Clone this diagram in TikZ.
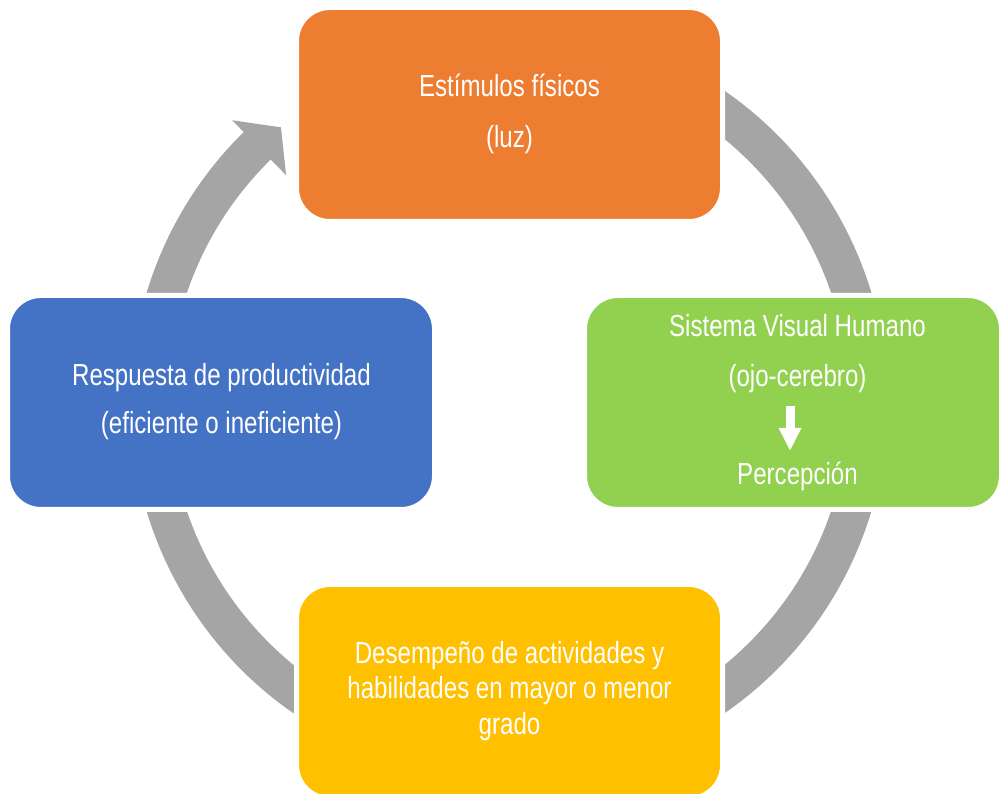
\documentclass[tikz,border=0pt]{standalone}
\usepackage{fontspec}
\setmainfont{Liberation Sans}[FakeStretch=0.79]
\usetikzlibrary{arrows.meta}
\definecolor{orangeC}{HTML}{ED7D31}
\definecolor{greenC}{HTML}{92D050}
\definecolor{blueC}{HTML}{4472C4}
\definecolor{yellowC}{HTML}{FFC000}
\definecolor{ringC}{HTML}{A5A5A5}
\tikzset{
  box/.style={rectangle, rounded corners=33.5pt, draw=white, line width=5pt,
              minimum height=214pt, inner sep=0pt},
  txt/.style={text=white, font=\fontsize{30.5}{36}\selectfont, anchor=base, inner sep=0pt},
}
\begin{document}
\begin{tikzpicture}[x=1pt,y=1pt]
\useasboundingbox (0,0) rectangle (999,793);
% cycle ring with arrow head
\begin{scope}[shift={(509,391)}]
\fill[ringC] (115:378.5) arc[start angle=115, end angle=-225.5, radius=378.5]
  -- (134.5:395) -- (129.7:357) -- (134.5:318) -- (134.5:340)
  arc[start angle=-225.5, end angle=115, radius=340] -- cycle;
\end{scope}
% boxes
\node[box, fill=orangeC, minimum width=426pt] (est) at (509.5,678.5) {};
\node[box, fill=greenC, minimum width=417pt] (svh) at (793,390.5) {};
\node[box, fill=blueC, minimum width=427pt] (resp) at (221,390.5) {};
\node[box, fill=yellowC, minimum width=426pt] (des) at (509.5,101.5) {};
% texts
\node[txt] (est1) at (509.5,696) {Estímulos físicos};
\node[txt] (est2) at (509.5,645) {(luz)};
\node[txt] (svh1) at (797.5,456) {Sistema Visual Humano};
\node[txt] (svh2) at (797.5,406) {(ojo-cerebro)};
\node[txt] (svh3) at (797.5,308) {Percepción};
\node[txt] (resp1) at (221.5,407) {Respuesta de productividad};
\node[txt] (resp2) at (221.5,359) {(eficiente o ineficiente)};
\node[txt] (des1) at (509.5,129) {Desempeño de actividades y};
\node[txt] (des2) at (509.5,94) {habilidades en mayor o menor};
\node[txt] (des3) at (509.5,59) {grado};
% small white arrow in green box
\coordinate (ga) at (790,387);
\coordinate (gb) at (790,342);
\draw[white, line width=9pt, -{Triangle[width=21pt,length=23pt]}] (ga) -- (gb);
\end{tikzpicture}
\end{document}
